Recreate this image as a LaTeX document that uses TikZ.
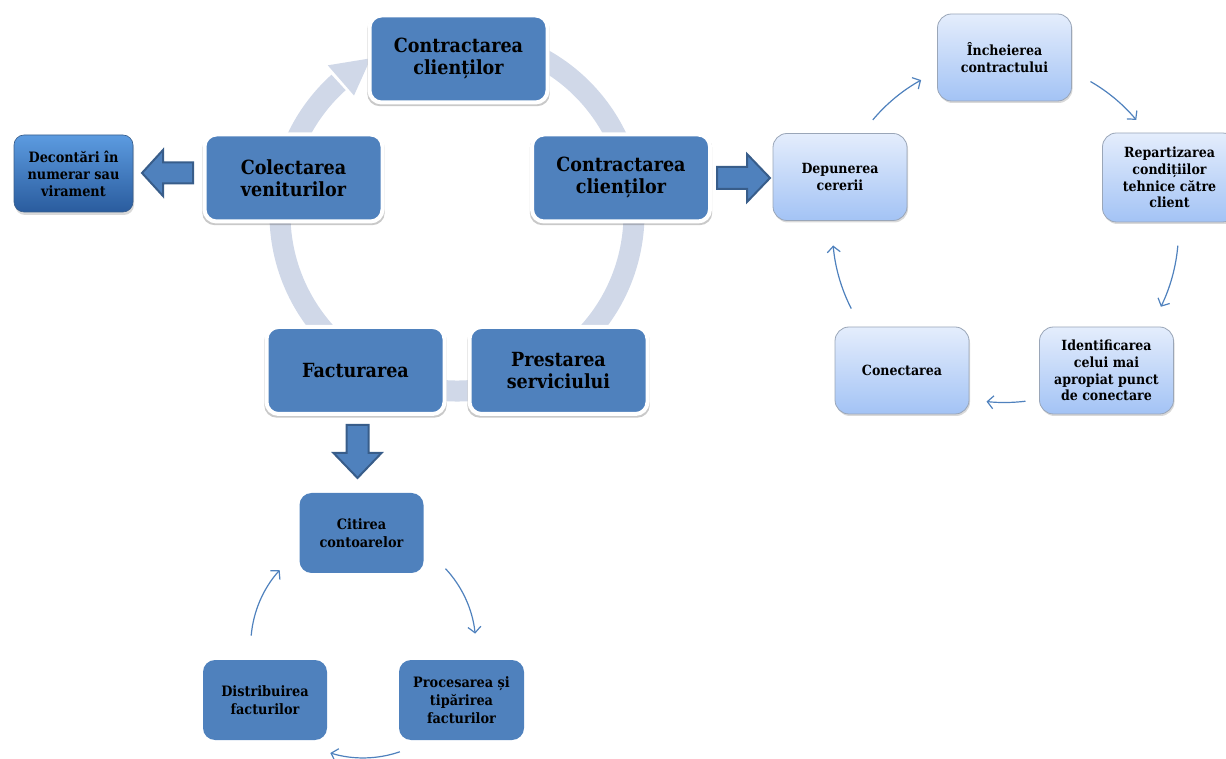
\documentclass[tikz,border=0pt]{standalone}
\usepackage{fontspec}
\setmainfont{DejaVu Serif Condensed}
\usetikzlibrary{shadows,arrows.meta,calc}

\definecolor{accent}{HTML}{4F81BD}
\definecolor{accentdark}{HTML}{385D8A}
\definecolor{ringcol}{HTML}{D0D8E8}
\definecolor{lighttop}{HTML}{E4EDFC}
\definecolor{lightbot}{HTML}{A3C3F5}
\definecolor{lightedge}{HTML}{9AA6B8}
\definecolor{glosstop}{HTML}{5C9BE0}
\definecolor{glossbot}{HTML}{2A5C9E}

\tikzset{
  mainbox/.style={rectangle, rounded corners=12, fill=accent, draw=white,
    line width=4, minimum width=178, minimum height=87, inner sep=0,
    align=center, font=\fontsize{19.5}{22}\selectfont\bfseries,
    drop shadow={shadow xshift=0, shadow yshift=-2.5, shadow scale=1.025,
      opacity=0.3, fill=black!70}},
  lightbox/.style={rectangle, rounded corners=14, top color=lighttop,
    bottom color=lightbot, draw=lightedge, line width=0.8,
    minimum width=134, minimum height=87, inner sep=0, align=center,
    font=\fontsize{14}{16.7}\selectfont\bfseries,
    drop shadow={shadow xshift=1, shadow yshift=-2, opacity=0.3}},
  flatbox/.style={rectangle, rounded corners=12, fill=accent,
    minimum width=124, minimum height=80, inner sep=0, align=center,
    font=\fontsize{14.3}{18}\selectfont\bfseries},
  glossbox/.style={rectangle, rounded corners=10, top color=glosstop,
    bottom color=glossbot, draw=accentdark, line width=0.6,
    minimum width=119, minimum height=77, inner sep=0, align=center,
    font=\fontsize{14.3}{17}\selectfont\bfseries,
    drop shadow={shadow xshift=1, shadow yshift=-3, opacity=0.3}},
  blockarrow/.style={fill=accent, draw=accentdark, line width=2, line join=miter},
  cyc/.style={draw=accent, line width=1.2,
    -{Straight Barb[length=6, width=13]}},
}

\begin{document}
\begin{tikzpicture}[x=1pt, y=1pt]
\useasboundingbox (0,0) rectangle (1226,758);
\clip (0,0) rectangle (1226,758);

% ---- main cycle: circular band behind the five steps ----
\coordinate (ring) at (457,544);
\draw[ringcol, line width=21] ($(ring)+(80:177)$) arc (80:-228:177);
\fill[ringcol] ($(ring)+(131:157)$) -- ($(ring)+(131:197)$)
  -- ($(ring)+(119:178)$) -- cycle;

\node[mainbox] (contr1) at (458.5,699) {Contractarea\\clienților};
\node[mainbox] (contr2) at (621,580) {Contractarea\\clienților};
\node[mainbox] (colect) at (293.5,580) {Colectarea\\veniturilor};
\node[mainbox] (factur) at (355.5,387.5) {Facturarea};
\node[mainbox] (prest)  at (558.5,387.5) {Prestarea\\serviciului};

% ---- payment box and block arrows ----
\node[glossbox] (decont) at (73.5,584.5) {Decontări în\\numerar sau\\virament};

\coordinate (larr) at (193,585);
\draw[blockarrow, shift={(larr)}, rotate=180]
  (0,-10.5) -- (30,-10.5) -- (30,-23) -- (51,0) -- (30,23) -- (30,10.5)
  -- (0,10.5) -- cycle;
\coordinate (rarr) at (717,580);
\draw[blockarrow, shift={(rarr)}]
  (0,-11) -- (30,-11) -- (30,-24) -- (53,0) -- (30,24) -- (30,11)
  -- (0,11) -- cycle;
\coordinate (darr) at (357.5,333);
\draw[blockarrow, shift={(darr)}, rotate=-90]
  (0,-11) -- (28,-11) -- (28,-24) -- (53,0) -- (28,24) -- (28,11)
  -- (0,11) -- cycle;

% ---- connection procedure cycle ----
\node[lightbox] (depun) at (840,581) {Depunerea\\cererii};
\node[lightbox] (inch)  at (1004.5,700.5) {Încheierea\\contractului};
\node[lightbox, minimum height=89] (repart) at (1169.5,580.5)
  {Repartizarea\\condițiilor\\tehnice către\\client};
\node[lightbox] (ident) at (1106.5,387.5)
  {Identificarea\\celui mai\\apropiat punct\\de conectare};
\node[lightbox] (conect) at (902,387.5) {Conectarea};

\coordinate (rc) at (1004.5,527.5);
\draw[cyc] ($(rc)+(140:172)$) arc (140:119:172);
\draw[cyc] ($(rc)+(60:172)$) arc (60:40:172);
\draw[cyc] ($(rc)+(-5:174)$) arc (-5:-26:174);
\draw[cyc] ($(rc)+(-83:172)$) arc (-83:-96:172);
\draw[cyc] ($(rc)+(-153:172)$) arc (-153:-175:172);

% ---- billing cycle ----
\node[flatbox] (citire) at (361.5,225) {Citirea\\contoarelor};
\node[flatbox, minimum width=125] (proces) at (461.5,58)
  {Procesarea și\\tipărirea\\facturilor};
\node[flatbox] (distrib) at (265,58) {Distribuirea\\facturilor};

\coordinate (bc) at (363.25,112.6);
\draw[cyc] ($(bc)+(43:112.5)$) arc (43:6:112.5);
\draw[cyc] ($(bc)+(-71:112.5)$) arc (-71:-107:112.5);
\draw[cyc] ($(bc)+(175:112.5)$) arc (175:138:112.5);
\end{tikzpicture}
\end{document}
